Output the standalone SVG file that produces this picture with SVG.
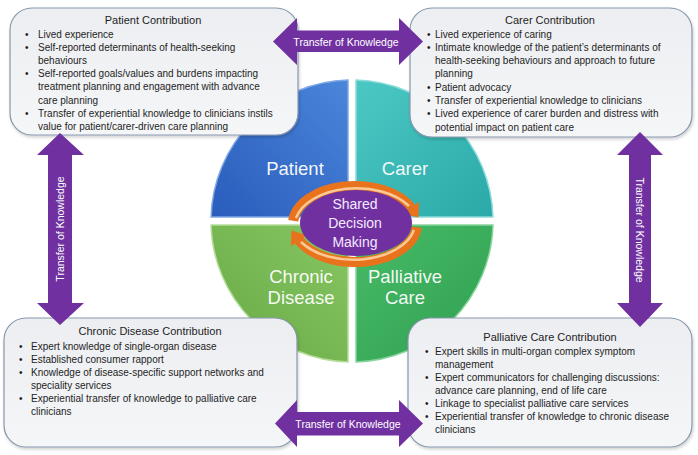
<svg xmlns="http://www.w3.org/2000/svg" width="698" height="455" viewBox="0 0 698 455">
  <defs>
    <linearGradient id="gBox" x1="0" y1="0" x2="0" y2="1">
      <stop offset="0" stop-color="#eceef1"/>
      <stop offset="1" stop-color="#f5f6f8"/>
    </linearGradient>
    <linearGradient id="gPat" x1="1" y1="0" x2="0" y2="1">
      <stop offset="0" stop-color="#4a86da"/>
      <stop offset="1" stop-color="#2a5cbc"/>
    </linearGradient>
    <linearGradient id="gCar" x1="0" y1="0" x2="1" y2="1">
      <stop offset="0" stop-color="#4cc8c4"/>
      <stop offset="1" stop-color="#2aa9a8"/>
    </linearGradient>
    <linearGradient id="gChr" x1="1" y1="0" x2="0" y2="1">
      <stop offset="0" stop-color="#86c764"/>
      <stop offset="1" stop-color="#68a944"/>
    </linearGradient>
    <linearGradient id="gPal" x1="0" y1="0" x2="1" y2="1">
      <stop offset="0" stop-color="#48bb68"/>
      <stop offset="1" stop-color="#2e9f4f"/>
    </linearGradient>
    <filter id="shadow" x="-5%" y="-5%" width="110%" height="115%">
      <feDropShadow dx="1" dy="2" stdDeviation="1.5" flood-color="#000" flood-opacity="0.18"/>
    </filter>
  </defs>
  <style>
    .box { fill: url(#gBox); stroke: #8797ad; stroke-width: 1.2; filter: url(#shadow); }
    .title { font-family: "Liberation Sans", Arial, sans-serif; font-size: 11px; fill: #1e1e1e; text-anchor: middle; }
    .txt { font-family: "Liberation Sans", Arial, sans-serif; font-size: 10px; fill: #1e1e1e; }
    .arrow { fill: #7030a0; }
    .atxt { font-family: "Liberation Sans", Arial, sans-serif; font-size: 10.5px; fill: #ffffff; text-anchor: middle; }
    .qlab { font-family: "Liberation Sans", Arial, sans-serif; font-size: 18.5px; fill: #ffffff; text-anchor: middle; fill-opacity: 0.95; }
    .sdm { font-family: "Liberation Sans", Arial, sans-serif; font-size: 14px; fill: #f3eaff; text-anchor: middle; }
    .band { fill: none; stroke: #e8731c; stroke-width: 10; }
    .bandhi { fill: none; stroke: #fbc995; stroke-width: 2.5; }
    .head { fill: #e8731c; }
  </style>

  <rect width="698" height="455" fill="#ffffff"/>

  <g id="circle">
    <path d="M348,217 L348,80.06 A141,141 0 0 0 211.06,217 Z" fill="url(#gPat)" stroke="#7fa8e6" stroke-width="1.5"/>
    <path d="M356,217 L492.94,217 A141,141 0 0 0 356,80.06 Z" fill="url(#gCar)" stroke="#8adcd8" stroke-width="1.5"/>
    <path d="M348,225 L211.06,225 A141,141 0 0 0 348,361.94 Z" fill="url(#gChr)" stroke="#b4dd98" stroke-width="1.5"/>
    <path d="M356,225 L356,361.94 A141,141 0 0 0 492.94,225 Z" fill="url(#gPal)" stroke="#86d49c" stroke-width="1.5"/>
    <text class="qlab" x="295" y="175">Patient</text>
    <text class="qlab" x="405" y="175">Carer</text>
    <text class="qlab" x="301" y="283">Chronic</text>
    <text class="qlab" x="301" y="304">Disease</text>
    <text class="qlab" x="405" y="283">Palliative</text>
    <text class="qlab" x="405" y="304">Care</text>
  </g>

  <g id="shared-decision-making">
    <path class="band" d="M293.2,220.7 A62,38 0 0 1 411.2,207.9"/>
    <path class="bandhi" d="M296,218 A62,38 0 0 1 409,206"/>
    <polygon class="head" points="419.1,201.8 418.5,217.4 403.3,214.0"/>
    <path class="band" d="M416.8,227.3 A62,38 0 0 1 298.8,240.1"/>
    <path class="bandhi" d="M414,230 A62,38 0 0 1 301,242"/>
    <polygon class="head" points="306.7,235.3 291.5,230.6 290.9,246.2"/>
    <ellipse cx="356" cy="223" rx="56" ry="33" fill="#7030a0"/>
    <text class="sdm" x="355" y="209">Shared</text>
    <text class="sdm" x="355" y="228">Decision</text>
    <text class="sdm" x="355" y="247">Making</text>
  </g>

  <g id="patient-contribution">
    <rect class="box" x="10" y="8" width="288" height="127" rx="22"/>
    <text class="title" x="153" y="23.5">Patient Contribution</text>
    <g class="txt">
      <text x="25" y="37.5">•</text><text x="38" y="37.5">Lived experience</text>
      <text x="25" y="50.7">•</text><text x="38" y="50.7">Self-reported determinants of health-seeking</text>
      <text x="38" y="63.9">behaviours</text>
      <text x="25" y="77.1">•</text><text x="38" y="77.1">Self-reported goals/values and burdens impacting</text>
      <text x="38" y="90.3">treatment planning and engagement with advance</text>
      <text x="38" y="103.5">care planning</text>
      <text x="25" y="116.7">•</text><text x="38" y="116.7">Transfer of experiential knowledge to clinicians instils</text>
      <text x="38" y="129.9">value for patient/carer-driven care planning</text>
    </g>
  </g>

  <g id="carer-contribution">
    <rect class="box" x="410" y="8" width="282" height="129" rx="22"/>
    <text class="title" x="550" y="23.5">Carer Contribution</text>
    <g class="txt">
      <text x="427" y="37.5">•</text><text x="435" y="37.5">Lived experience of caring</text>
      <text x="427" y="50.8">•</text><text x="435" y="50.8">Intimate knowledge of the patient’s determinants of</text>
      <text x="435" y="64.1">health-seeking behaviours and approach to future</text>
      <text x="435" y="77.4">planning</text>
      <text x="427" y="90.7">•</text><text x="435" y="90.7">Patient advocacy</text>
      <text x="427" y="104">•</text><text x="435" y="104">Transfer of experiential knowledge to clinicians</text>
      <text x="427" y="117.3">•</text><text x="435" y="117.3">Lived experience of carer burden and distress with</text>
      <text x="435" y="130.6">potential impact on patient care</text>
    </g>
  </g>

  <g id="chronic-disease-contribution">
    <rect class="box" x="4" y="318" width="293" height="129" rx="22"/>
    <text class="title" x="150" y="334.5">Chronic Disease Contribution</text>
    <g class="txt">
      <text x="19" y="349.5">•</text><text x="31" y="349.5">Expert knowledge of single-organ disease</text>
      <text x="19" y="362.5">•</text><text x="31" y="362.5">Established consumer rapport</text>
      <text x="19" y="375.5">•</text><text x="31" y="375.5">Knowledge of disease-specific support networks and</text>
      <text x="31" y="388.5">speciality services</text>
      <text x="19" y="401.5">•</text><text x="31" y="401.5">Experiential transfer of knowledge to palliative care</text>
      <text x="31" y="414.5">clinicians</text>
    </g>
  </g>

  <g id="palliative-care-contribution">
    <rect class="box" x="408" y="318" width="284" height="129" rx="22"/>
    <text class="title" x="550" y="340.5">Palliative Care Contribution</text>
    <g class="txt">
      <text x="425" y="355.2">•</text><text x="435" y="355.2">Expert skills in multi-organ complex symptom</text>
      <text x="435" y="368.1">management</text>
      <text x="425" y="381">•</text><text x="435" y="381">Expert communicators for challenging discussions:</text>
      <text x="435" y="394">advance care planning, end of life care</text>
      <text x="425" y="406.9">•</text><text x="435" y="406.9">Linkage to specialist palliative care services</text>
      <text x="425" y="419.8">•</text><text x="435" y="419.8">Experiential transfer of knowledge to chronic disease</text>
      <text x="435" y="432.8">clinicians</text>
    </g>
  </g>

  <g id="connectors">
    <g id="arrow-top">
      <polygon class="arrow" points="273,41.5 297,18 297,30.5 399,30.5 399,18 423,41.5 399,65 399,52 297,52 297,65"/>
      <text class="atxt" x="346" y="45.5">Transfer of Knowledge</text>
    </g>
    <g id="arrow-bottom">
      <polygon class="arrow" points="275,423.5 297,400 297,412 399,412 399,400 423,423.5 399,447 399,435.5 297,435.5 297,447"/>
      <text class="atxt" x="348" y="427.5">Transfer of Knowledge</text>
    </g>
    <g id="arrow-left">
      <polygon class="arrow" points="60,133 84,155 72,155 72,303 84,303 60,325 37,303 48,303 48,155 37,155"/>
      <text class="atxt" transform="translate(63.8,229) rotate(-90)">Transfer of Knowledge</text>
    </g>
    <g id="arrow-right">
      <polygon class="arrow" points="640,132 663,155 651,155 651,303 663,303 640,327 617,303 629,303 629,155 617,155"/>
      <text class="atxt" transform="translate(636.2,230) rotate(90)">Transfer of Knowledge</text>
    </g>
  </g>
</svg>
